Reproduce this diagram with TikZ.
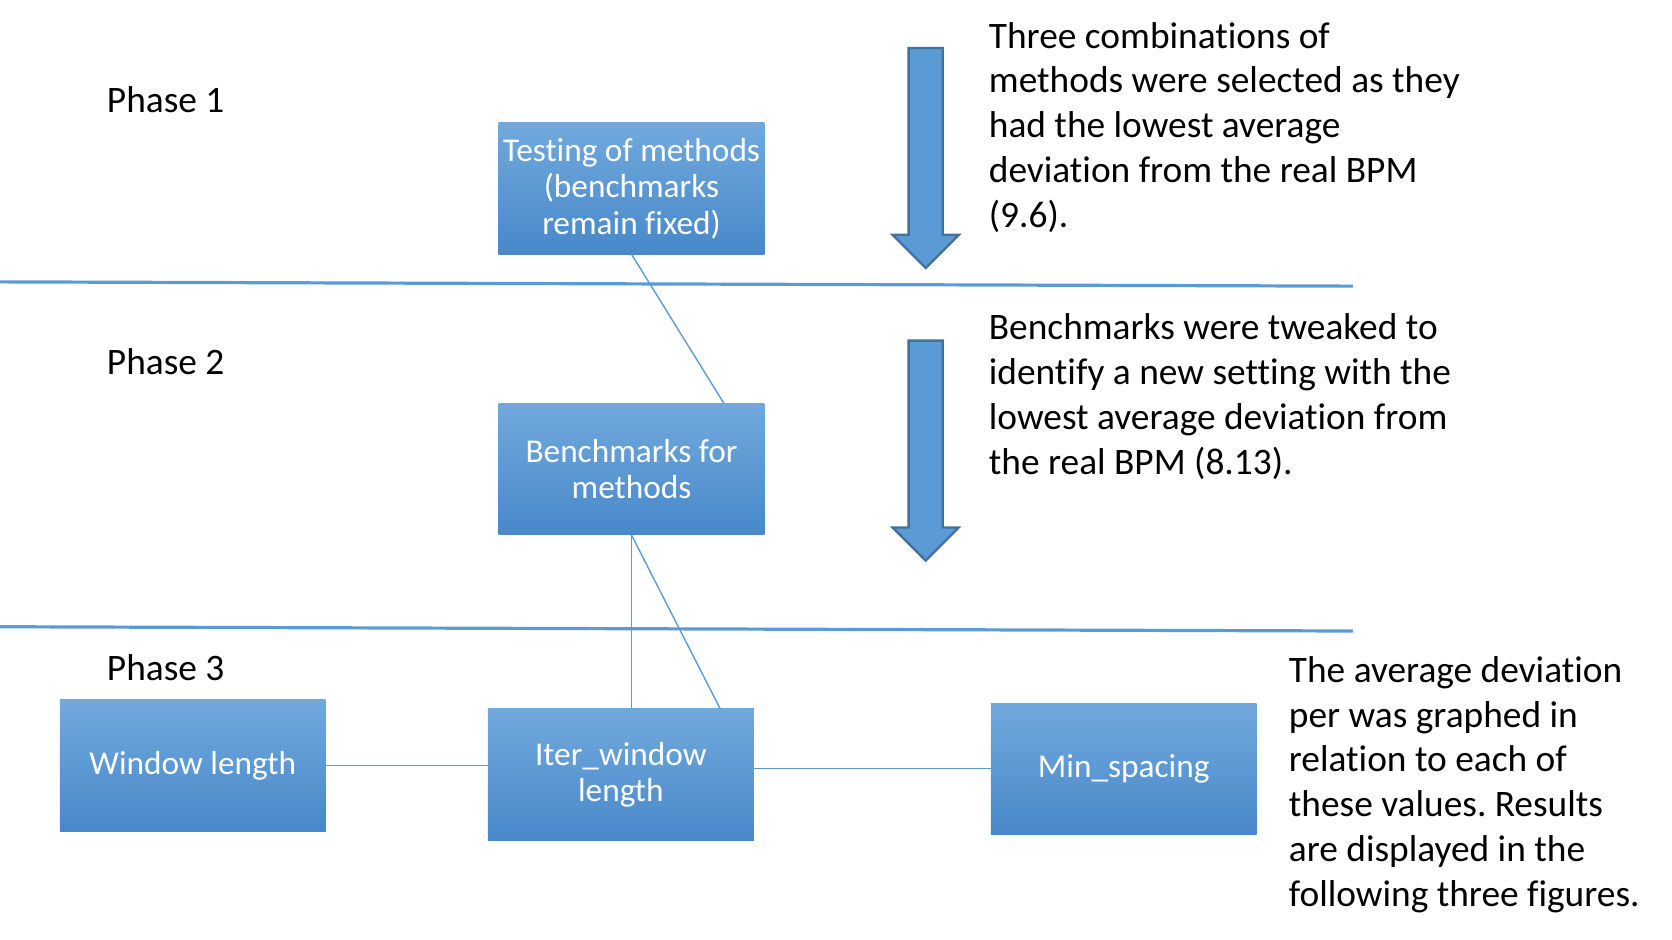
\documentclass[tikz,border=0pt]{standalone}
\usepackage{fontspec}
\setmainfont[Ligatures=NoCommon]{Carlito}
\frenchspacing
\usetikzlibrary{calc}
\definecolor{ablue}{HTML}{5B9BD5}
\definecolor{aborder}{HTML}{41719C}
\definecolor{btop}{HTML}{71A9DD}
\definecolor{bbot}{HTML}{4888C9}
\tikzset{
  box/.style={minimum width=249pt, minimum height=123pt, inner sep=0pt, top color=btop, bottom color=bbot, draw=none, text=white, align=center, font=\fontsize{31.2}{34}\selectfont},
  txt/.style={anchor=base west, inner sep=0pt, align=left, font=\fontsize{35}{42}\selectfont},
  conn/.style={draw=ablue, line width=1.3pt},
  sep/.style={draw=ablue, line width=3pt},
  barrow/.style={fill=ablue, draw=aborder, line width=2.2pt, line join=miter}
}
\begin{document}
\begin{tikzpicture}[x=1pt,y=-1pt]
\useasboundingbox (0,0) rectangle (1566,880.4);
% phase labels
\node[txt] (p1) at (100,105) {Phase 1};
\node[txt] (p2) at (100,351) {Phase 2};
\node[txt] (p3) at (100,637) {Phase 3};
% separators
\coordinate (s1a) at (0,264); \coordinate (s1b) at (1267,268);
\coordinate (s2a) at (0,587); \coordinate (s2b) at (1267,591);
\draw[sep] (s1a) -- (s1b);
\draw[sep] (s2a) -- (s2b);
% boxes
\node[box] (t) at (591.5,176.5) {Testing of methods\\(benchmarks\\remain fixed)};
\node[box] (b) at (591.5,439.5) {Benchmarks for\\methods};
\node[box] (w) at (180.5,717) {Window length};
\node[box] (i) at (581.5,725.5) {Iter\_window\\length};
\node[box] (m) at (1052.5,720) {Min\_spacing};
% connectors
\draw[conn] (t.south) -- ([xshift=86.5pt]b.north);
\draw[conn] (b.south) -- (b.south |- i.north);
\draw[conn] (b.south) -- ([xshift=93pt]i.north);
\draw[conn] (w.east) -- (i.west |- w.east);
\draw[conn] (i.east |- m.west) -- (m.west);
% block arrows
\draw[barrow] (851,45) -- (883,45) -- (883,220) -- (898,220) -- (867,251) -- (836,220) -- (851,220) -- cycle;
\draw[barrow] (851,319) -- (883,319) -- (883,494) -- (898,494) -- (867,525) -- (836,494) -- (851,494) -- cycle;
% texts (anchor at baseline of last line)
\node[txt] (x1) at (926,213) {Three combinations of\\methods were selected as they\\had the lowest average\\deviation from the real BPM\\(9.6).};
\node[txt] (x2) at (926,444) {Benchmarks were tweaked to\\identify a new setting with the\\lowest average deviation from\\the real BPM (8.13).};
\node[txt] (x3) at (1207,849) {The average deviation\\per was graphed in\\relation to each of\\these values. Results\\are displayed in the\\following three figures.};
\end{tikzpicture}
\end{document}
